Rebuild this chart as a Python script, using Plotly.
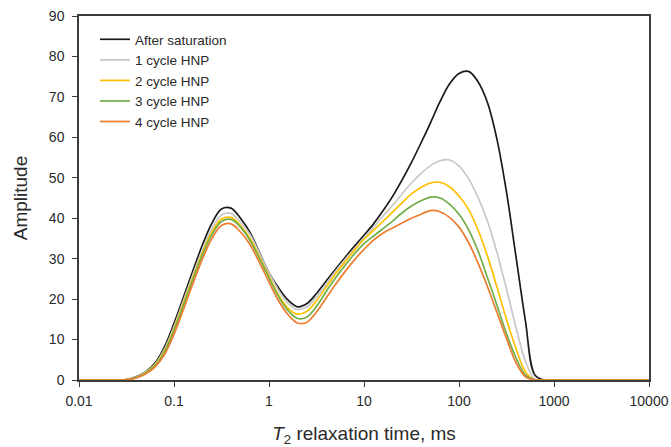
import plotly.graph_objects as go

# T2 relaxation times (ms), roughly 0.1-decade steps
t2_ms = [0.01, 0.0251, 0.0316, 0.0398, 0.0501, 0.0631, 0.0794, 0.1, 0.126, 0.158, 0.2, 0.251, 0.316, 0.398,
         0.501, 0.631, 0.794, 1, 1.26, 1.58, 2.0, 2.51, 3.16, 3.98, 5.01, 6.31, 7.94, 10, 12.6, 15.8, 20,
         25.1, 31.6, 39.8, 50.1, 63.1, 79.4, 100, 126, 158, 200, 251, 316, 398, 501, 631, 794, 1000, 10000]

after_saturation = [0, 0, 0.1, 0.8, 2.0, 4.2, 8.2, 14, 20.5, 27, 33.5, 38.8, 42.3, 42.5,
                    40, 36.5, 31.5, 26.5, 22.8, 19.8, 18.1, 18.9, 21.4, 24.4, 27.4, 30.3, 33.1, 35.8, 38.6, 41.8, 45.4,
                    49.4, 53.8, 58.6, 63.6, 68.8, 73.2, 75.8, 76.3, 73.8, 68.5, 59.5, 46.5, 30.5, 14.5, 1.2, 0, 0, 0]
cycle1 = [0, 0, 0.1, 0.7, 1.9, 3.9, 7.6, 13.2, 19.7, 26, 32.3, 37.5, 40.8, 41.2,
          39, 36, 31.3, 26.5, 22.2, 19, 17.4, 18.1, 20.5, 23.7, 26.9, 29.8, 32.5, 35, 37.7, 40.5, 43.2,
          46, 48.7, 51.1, 53, 54.2, 54.4, 52.9, 49.8, 45.2, 39.2, 31.5, 22.5, 13, 4.6, 0.2, 0, 0, 0]
cycle2 = [0, 0, 0.1, 0.6, 1.8, 3.7, 7.2, 12.6, 19, 25.3, 31.5, 36.6, 39.8, 40.2,
          38.2, 35, 30.4, 25.6, 21, 17.8, 16.3, 17, 19.6, 22.9, 26.2, 29.2, 32.1, 34.8, 37, 39.2, 41.5,
          43.8, 46, 47.6, 48.7, 48.9, 47.8, 45.5, 42.2, 37.2, 30.5, 23, 15, 7.8, 2, 0, 0, 0, 0]
cycle3 = [0, 0, 0.1, 0.6, 1.7, 3.5, 6.9, 12.2, 18.5, 24.8, 31, 36, 39.2, 39.7,
          37.8, 34.5, 30, 25.2, 20.6, 17.2, 15.2, 15.6, 18.2, 21.8, 25.2, 28.3, 31.2, 33.7, 35.6, 37.4, 39.3,
          41.3, 43, 44.3, 45.2, 45, 43.5, 41, 37.2, 32, 25.2, 18.5, 11.5, 5.5, 1.2, 0, 0, 0, 0]
cycle4 = [0, 0, 0.05, 0.5, 1.5, 3.2, 6.3, 11.3, 17.5, 23.8, 30, 35, 38.2, 38.6,
          36.6, 33.5, 29, 24.2, 19.6, 16.2, 14.1, 14.3, 16.8, 20.2, 23.6, 26.8, 29.7, 32.3, 34.6, 36.3, 37.6,
          38.8, 40, 41, 41.9, 41.6, 40.2, 37.8, 34, 29, 23, 16.7, 10.3, 4.3, 0.8, 0, 0, 0, 0]

series_names = ["After saturation", "1 cycle HNP", "2 cycle HNP", "3 cycle HNP", "4 cycle HNP"]
series_values = [after_saturation, cycle1, cycle2, cycle3, cycle4]
colors = ["#1a1a1a", "#c8c8c8", "#ffc000", "#70ad47", "#ed7d31"]

tick_vals = [0.01, 0.1, 1, 10, 100, 1000, 10000]
tick_text = ["0.01", "0.1", "1", "10", "100", "1000", "10000"]
y_ticks = [0, 10, 20, 30, 40, 50, 60, 70, 80, 90]

font_family = "Liberation Sans, Arial, sans-serif"

fig = go.Figure()
for name, vals, col in zip(series_names, series_values, colors):
    fig.add_trace(go.Scatter(x=t2_ms, y=vals, mode="lines", name=name,
                             line=dict(color=col, width=1.7, shape="spline", smoothing=1.0)))

axis_col = "#3c3c3c"
fig.update_layout(
    width=671, height=447,
    margin=dict(l=79, r=22, t=16, b=67),
    paper_bgcolor="white", plot_bgcolor="white",
    font=dict(family=font_family, size=14, color="#2a2a2a"),
    showlegend=True,
    legend=dict(x=0.028, y=0.978, xanchor="left", yanchor="top",
                bgcolor="rgba(0,0,0,0)", font=dict(size=13.5, color="#2a2a2a"),
                tracegroupgap=0, itemwidth=30),
    xaxis=dict(type="log", range=[-2, 4], tickvals=tick_vals, ticktext=tick_text,
               showgrid=False, zeroline=False, showline=True, linecolor=axis_col, linewidth=1.5,
               mirror=True, ticks="outside", ticklen=5, tickcolor=axis_col, tickwidth=1.2,
               tickfont=dict(size=14), ticklabelstandoff=2, automargin=False,
               title=dict(text="<i>T</i><sub>2</sub> relaxation time, ms", font=dict(size=19), standoff=21)),
    yaxis=dict(range=[0, 90], tickvals=y_ticks,
               showgrid=False, zeroline=False, showline=True, linecolor=axis_col, linewidth=1.5,
               mirror=True, ticks="outside", ticklen=5, tickcolor=axis_col, tickwidth=1.2,
               tickfont=dict(size=14), ticklabelstandoff=5, automargin=False,
               title=dict(text="Amplitude", font=dict(size=19), standoff=16)),
)

fig.write_html("out.html")
